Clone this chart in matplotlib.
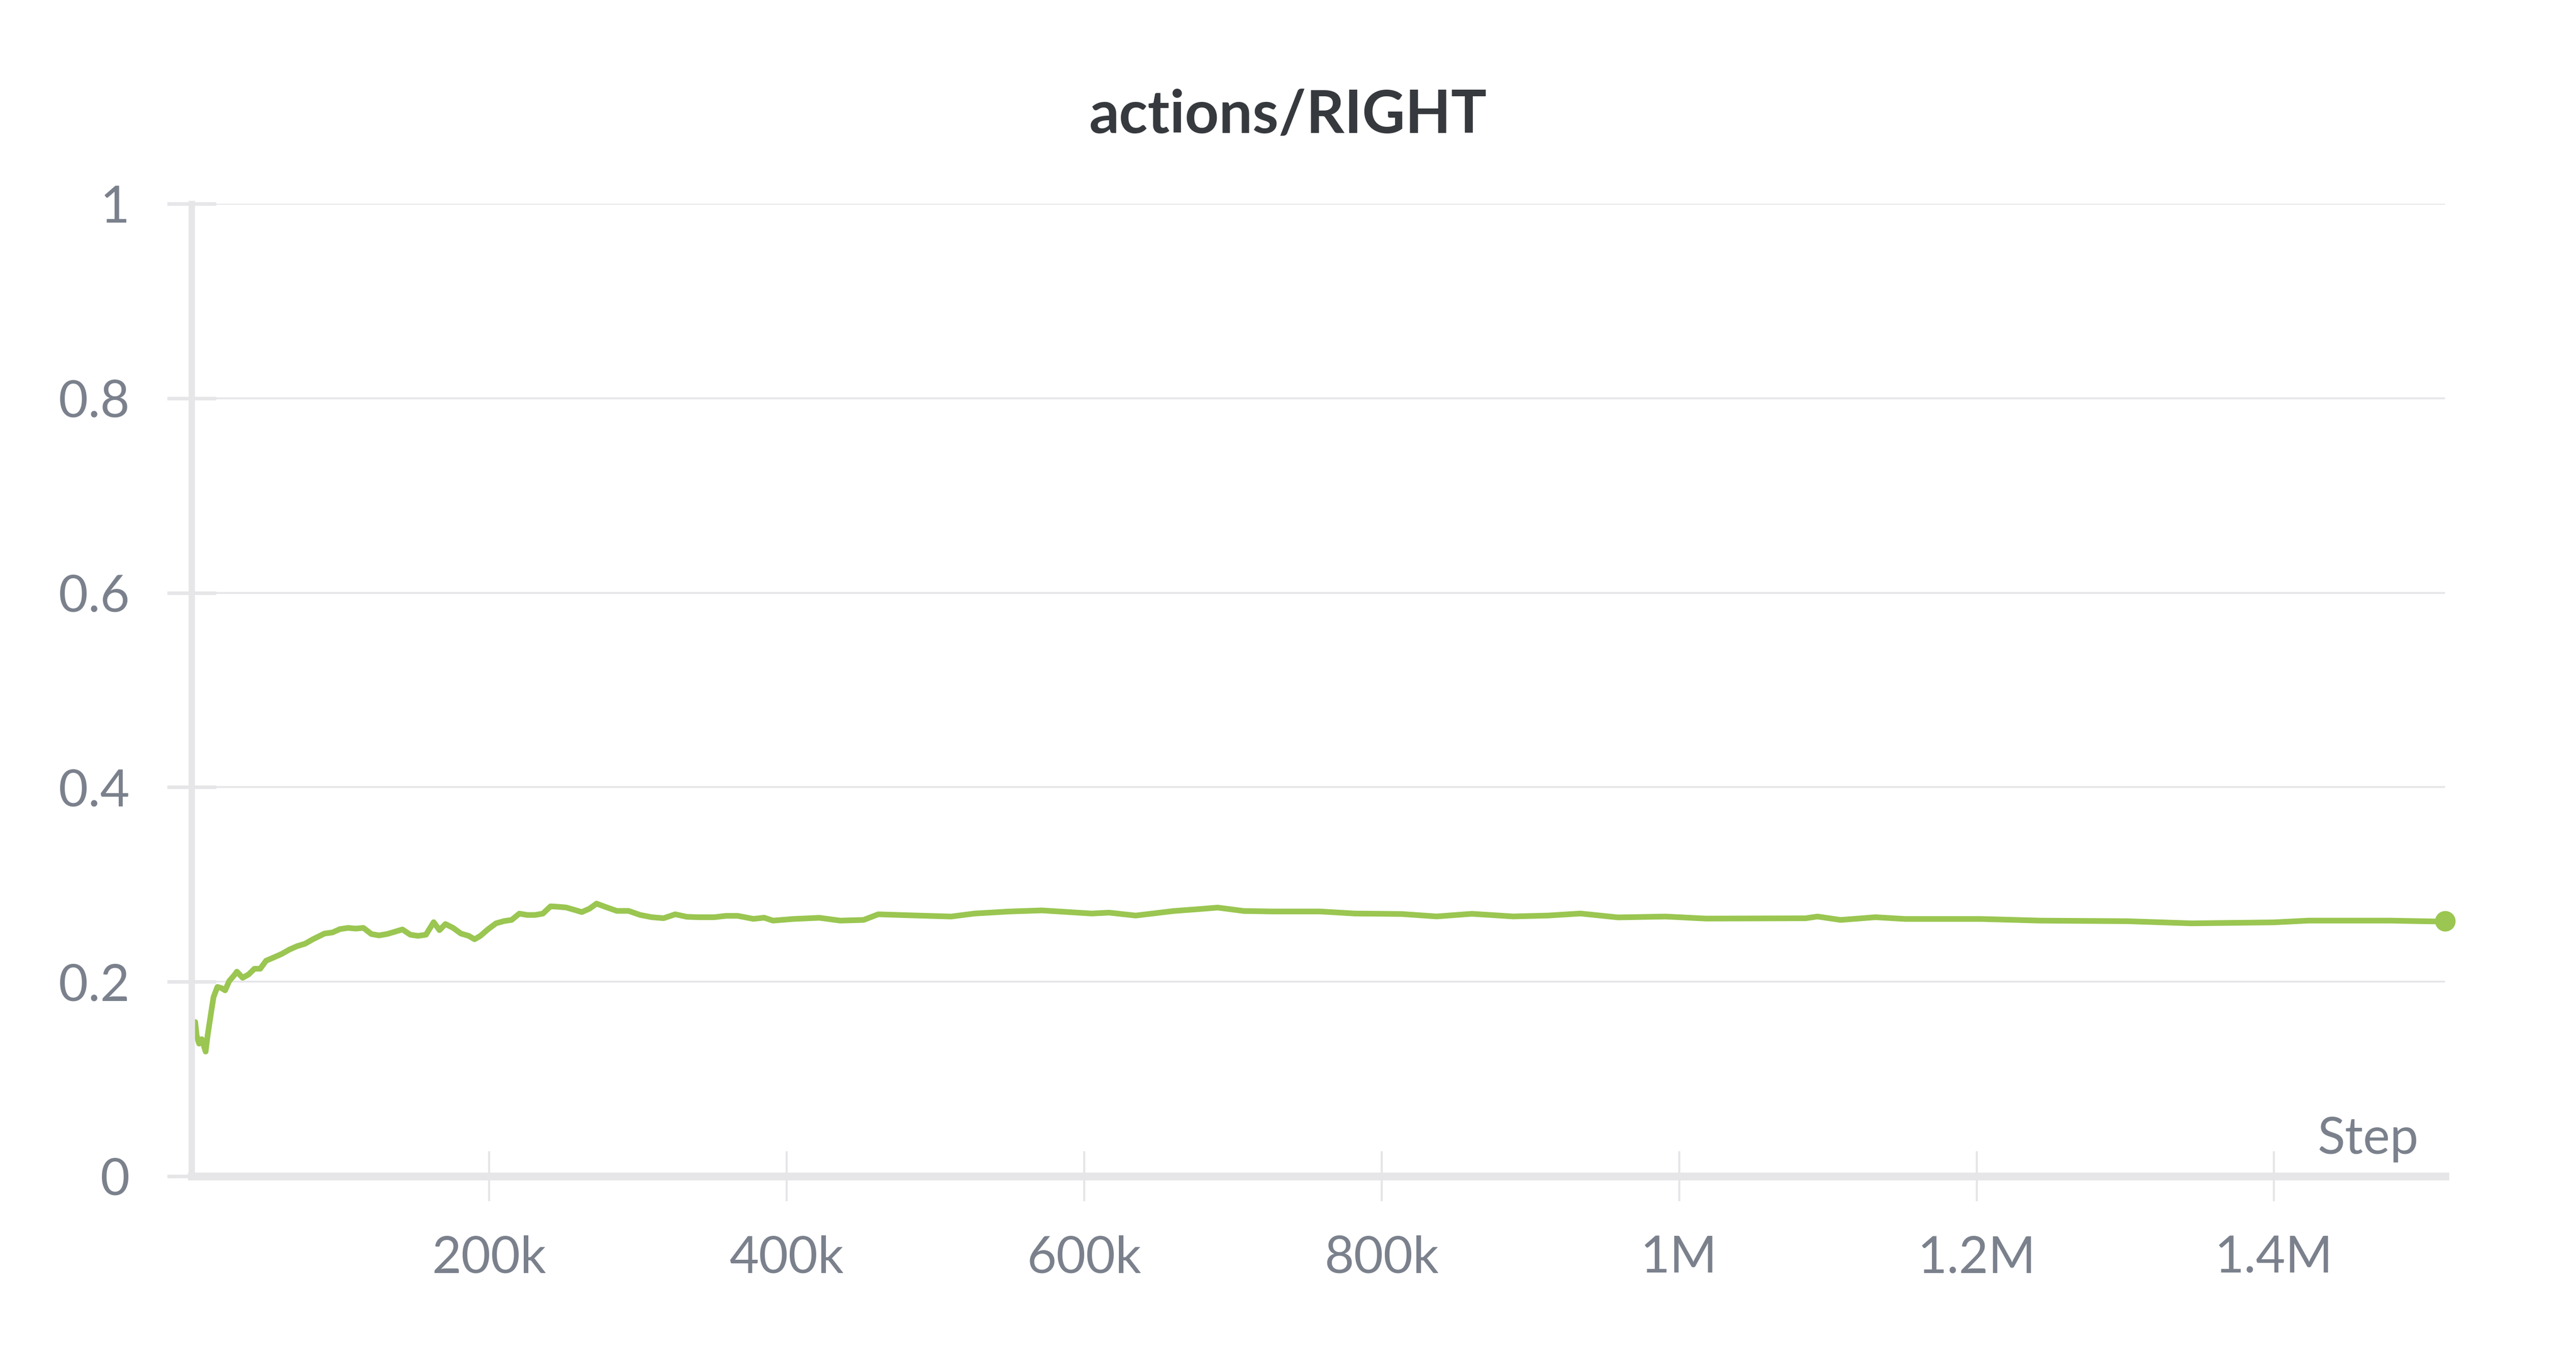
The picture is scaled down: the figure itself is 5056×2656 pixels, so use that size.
import matplotlib
matplotlib.use("Agg")
import matplotlib.pyplot as plt

# step in thousands
steps_k = [2.4, 3.4, 5.0, 6.8, 9.4, 10.7, 12.8, 14.7, 17.3, 19.9, 22.5, 25.2, 29.1, 30.4,
           34.3, 38.3, 42.2, 46.1, 50.0, 55.3, 60.5, 65.8, 71.0, 76.2, 81.5, 89.3, 94.6,
           99.8, 105.1, 110.3, 115.5, 120.8, 126.0, 131.3, 136.5, 141.7, 147.0, 152.2,
           157.5, 162.7, 166.6, 170.6, 175.8, 181.0, 186.3, 190.2, 194.1, 199.4, 204.6,
           209.9, 215.1, 220.3, 225.6, 230.8, 236.1, 241.3, 246.5, 251.8, 257.0, 262.3,
           267.5, 272.2, 278.0, 285.8, 293.7, 301.6, 309.4, 317.3, 325.1, 333.0, 340.9,
           351.3, 359.2, 367.1, 377.6, 384.9, 390.8, 404.5, 422, 436, 451.7, 461.6, 479.5,
           510.6, 526.4, 550, 571.6, 605, 616.8, 634.6, 660.3, 676, 689.8, 707.3, 727,
           758.6, 782, 813.4, 837, 860.6, 888.4, 911.7, 933.6, 959, 990.8, 1018, 1085,
           1093, 1108.6, 1132, 1152, 1203, 1242.5, 1301, 1344.5, 1399.7, 1423, 1478,
           1509.6, 1515]
right = [0.1585, 0.1444, 0.1363, 0.1409, 0.1281, 0.1444, 0.1655, 0.1841, 0.1946, 0.1935,
         0.1911, 0.2005, 0.2075, 0.2103, 0.2040, 0.2075, 0.2133, 0.2133, 0.2215, 0.2250,
         0.2285, 0.2331, 0.2366, 0.2390, 0.2436, 0.2495, 0.2506, 0.2541, 0.2553, 0.2546,
         0.2553, 0.2490, 0.2476, 0.2490, 0.2513, 0.2537, 0.2483, 0.2471, 0.2483, 0.2612,
         0.2530, 0.2593, 0.2553, 0.2495, 0.2471, 0.2436, 0.2471, 0.2541, 0.2600, 0.2623,
         0.2635, 0.2700, 0.2686, 0.2686, 0.2700, 0.2775, 0.2770, 0.2763, 0.2740, 0.2716,
         0.2751, 0.2803, 0.2770, 0.2728, 0.2728, 0.2686, 0.2663, 0.2653, 0.2693, 0.2667,
         0.2663, 0.2663, 0.2677, 0.2677, 0.2646, 0.2658, 0.2628, 0.2645, 0.2657, 0.2628,
         0.2635, 0.2693, 0.2684, 0.2670, 0.2701, 0.2722, 0.2733, 0.2701, 0.2710, 0.2680,
         0.2727, 0.2745, 0.2762, 0.2727, 0.2722, 0.2722, 0.2701, 0.2696, 0.2671, 0.2698,
         0.2671, 0.2680, 0.2701, 0.2661, 0.2670, 0.2649, 0.2652, 0.2670, 0.2635, 0.2663,
         0.2645, 0.2645, 0.2628, 0.2622, 0.2600, 0.2610, 0.2628, 0.2628, 0.2619, 0.2622]

xticks = [200000, 400000, 600000, 800000, 1000000, 1200000, 1400000]
xlabels = ["200k", "400k", "600k", "800k", "1M", "1.2M", "1.4M"]
yticks = [0, 0.2, 0.4, 0.6, 0.8, 1]
ylabels = ["0", "0.2", "0.4", "0.6", "0.8", "1"]

steps = [s * 1000 for s in steps_k]

plt.rcParams["font.family"] = ["Lato", "DejaVu Sans"]
green = "#9ac651"
gray_txt = "#7b818c"
light = "#e6e6e9"

fig = plt.figure(figsize=(50.56, 26.56), dpi=100)
ax = fig.add_axes([0.0744, 0.1307, 0.8748, 0.7187])

ax.plot(steps, right, color=green, lw=8, solid_joinstyle="round", solid_capstyle="round")
ax.plot(steps[-1], right[-1], "o", color=green, ms=28, mec=green, clip_on=False, zorder=5)

ax.set_xlim(0, 1515000)
ax.set_ylim(0, 1)
ax.set_xticks(xticks)
ax.set_xticklabels(xlabels)
ax.set_yticks(yticks)
ax.set_yticklabels(ylabels)

ax.grid(axis="y", color=light, lw=2.6)
ax.set_axisbelow(True)
for s in ["top", "right"]:
    ax.spines[s].set_visible(False)
ax.spines["left"].set_color(light)
ax.spines["left"].set_linewidth(9)
ax.spines["bottom"].set_color(light)
ax.spines["bottom"].set_linewidth(11)

ax.tick_params(axis="y", direction="inout", length=69, width=5, color=light,
               labelsize=72, labelcolor=gray_txt, pad=53)
ax.tick_params(axis="x", direction="inout", length=70, width=3, color=light,
               labelsize=72, labelcolor=gray_txt, pad=48)

ax.text(1 - 52 / 4423, 44 / 1909, "Step", transform=ax.transAxes, ha="right",
        va="baseline", fontsize=72, color=gray_txt)

fig.text(0.5, 1 - 261 / 2656, "actions/RIGHT", ha="center", va="baseline",
         fontsize=84, fontweight="bold", color="#36393d")

fig.savefig("out.png", dpi=100, facecolor="white")
